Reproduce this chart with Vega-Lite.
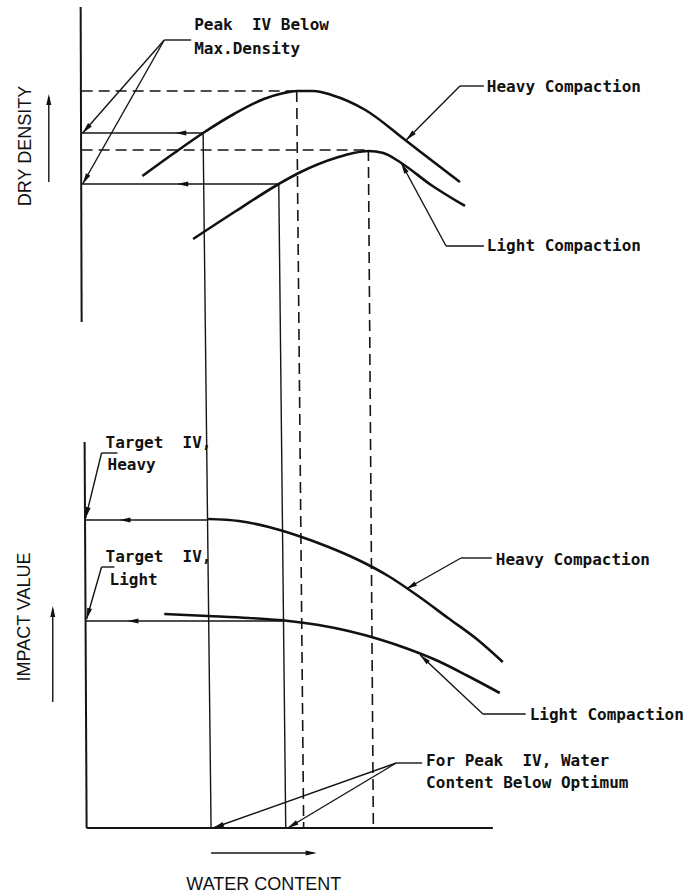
{
  "$schema": "https://vega.github.io/schema/vega-lite/v6.json",
  "width": 684,
  "height": 895,
  "autosize": {"type": "fit", "contains": "padding"},
  "padding": 0,
  "background": "white",
  "config": {"view": {"stroke": null}},
  "datasets": {
    "segments": [
      {"x": 81, "y": 7, "x2": 82, "y2": 322, "k": "axis"},
      {"x": 85, "y": 442, "x2": 87, "y2": 828, "k": "axis"},
      {"x": 87, "y": 828, "x2": 495, "y2": 828, "k": "axis"},
      {"x": 82, "y": 133, "x2": 204, "y2": 133, "k": "thin"},
      {"x": 204, "y": 133, "x2": 212, "y2": 828, "k": "thin"},
      {"x": 82, "y": 184, "x2": 280, "y2": 184, "k": "thin"},
      {"x": 280, "y": 184, "x2": 287, "y2": 828, "k": "thin"},
      {"x": 86, "y": 520, "x2": 209, "y2": 520, "k": "thin"},
      {"x": 86, "y": 621, "x2": 284, "y2": 621, "k": "thin"},
      {"x": 165, "y": 40, "x2": 192, "y2": 40, "k": "thin"},
      {"x": 165, "y": 40, "x2": 83, "y2": 133, "k": "thin"},
      {"x": 165, "y": 40, "x2": 83, "y2": 184, "k": "thin"},
      {"x": 462, "y": 86, "x2": 486, "y2": 86, "k": "thin"},
      {"x": 462, "y": 86, "x2": 408, "y2": 140, "k": "thin"},
      {"x": 448, "y": 246, "x2": 486, "y2": 246, "k": "thin"},
      {"x": 448, "y": 246, "x2": 403, "y2": 163, "k": "thin"},
      {"x": 102, "y": 453, "x2": 118, "y2": 453, "k": "thin"},
      {"x": 102, "y": 453, "x2": 86, "y2": 518, "k": "thin"},
      {"x": 102, "y": 567, "x2": 115, "y2": 567, "k": "thin"},
      {"x": 102, "y": 567, "x2": 87, "y2": 619, "k": "thin"},
      {"x": 463, "y": 558, "x2": 494, "y2": 558, "k": "thin"},
      {"x": 463, "y": 558, "x2": 408, "y2": 589, "k": "thin"},
      {"x": 485, "y": 714, "x2": 528, "y2": 714, "k": "thin"},
      {"x": 485, "y": 714, "x2": 422, "y2": 655, "k": "thin"},
      {"x": 398, "y": 763, "x2": 424, "y2": 763, "k": "thin"},
      {"x": 398, "y": 763, "x2": 214, "y2": 828, "k": "thin"},
      {"x": 398, "y": 763, "x2": 289, "y2": 828, "k": "thin"},
      {"x": 49, "y": 182, "x2": 49, "y2": 97, "k": "thin"},
      {"x": 53, "y": 702, "x2": 53, "y2": 609, "k": "thin"},
      {"x": 212, "y": 853, "x2": 315, "y2": 853, "k": "thin"},
      {"x": 82, "y": 91, "x2": 298, "y2": 91, "k": "dash"},
      {"x": 298, "y": 91, "x2": 305, "y2": 828, "k": "dash"},
      {"x": 82, "y": 150, "x2": 370, "y2": 150, "k": "dash"},
      {"x": 370, "y": 150, "x2": 375, "y2": 828, "k": "dash"}
    ],
    "curves": [
      {"c": "top heavy", "x": 143, "y": 176},
      {"c": "top heavy", "x": 175, "y": 153},
      {"c": "top heavy", "x": 204, "y": 133},
      {"c": "top heavy", "x": 235, "y": 114},
      {"c": "top heavy", "x": 265, "y": 99},
      {"c": "top heavy", "x": 285, "y": 93},
      {"c": "top heavy", "x": 298, "y": 91},
      {"c": "top heavy", "x": 315, "y": 91},
      {"c": "top heavy", "x": 333, "y": 95},
      {"c": "top heavy", "x": 367, "y": 110},
      {"c": "top heavy", "x": 407, "y": 140},
      {"c": "top heavy", "x": 433, "y": 160},
      {"c": "top heavy", "x": 462, "y": 182},
      {"c": "top light", "x": 194, "y": 239},
      {"c": "top light", "x": 237, "y": 211},
      {"c": "top light", "x": 280, "y": 184},
      {"c": "top light", "x": 300, "y": 173},
      {"c": "top light", "x": 340, "y": 157},
      {"c": "top light", "x": 355, "y": 153},
      {"c": "top light", "x": 370, "y": 151},
      {"c": "top light", "x": 385, "y": 153},
      {"c": "top light", "x": 403, "y": 163},
      {"c": "top light", "x": 433, "y": 185},
      {"c": "top light", "x": 467, "y": 206},
      {"c": "bottom heavy", "x": 209, "y": 519},
      {"c": "bottom heavy", "x": 240, "y": 521},
      {"c": "bottom heavy", "x": 270, "y": 527},
      {"c": "bottom heavy", "x": 300, "y": 536},
      {"c": "bottom heavy", "x": 330, "y": 547},
      {"c": "bottom heavy", "x": 360, "y": 560},
      {"c": "bottom heavy", "x": 390, "y": 576},
      {"c": "bottom heavy", "x": 420, "y": 596},
      {"c": "bottom heavy", "x": 450, "y": 618},
      {"c": "bottom heavy", "x": 480, "y": 640},
      {"c": "bottom heavy", "x": 505, "y": 662},
      {"c": "bottom light", "x": 165, "y": 614},
      {"c": "bottom light", "x": 209, "y": 616},
      {"c": "bottom light", "x": 250, "y": 618},
      {"c": "bottom light", "x": 290, "y": 621},
      {"c": "bottom light", "x": 320, "y": 625},
      {"c": "bottom light", "x": 350, "y": 631},
      {"c": "bottom light", "x": 380, "y": 639},
      {"c": "bottom light", "x": 410, "y": 649},
      {"c": "bottom light", "x": 440, "y": 661},
      {"c": "bottom light", "x": 470, "y": 676},
      {"c": "bottom light", "x": 502, "y": 693}
    ],
    "arrows": [
      {"x": 176, "y": 133, "a": 270},
      {"x": 178, "y": 184, "a": 270},
      {"x": 120, "y": 520, "a": 270},
      {"x": 128, "y": 621, "a": 270},
      {"x": 49, "y": 94, "a": 0},
      {"x": 53, "y": 606, "a": 0},
      {"x": 318, "y": 853, "a": 90},
      {"x": 83, "y": 133, "a": 221.7},
      {"x": 83, "y": 184, "a": 210},
      {"x": 408, "y": 140, "a": 225},
      {"x": 403, "y": 163, "a": 331.5},
      {"x": 86, "y": 518, "a": 193.8},
      {"x": 87, "y": 619, "a": 196.1},
      {"x": 408, "y": 589, "a": 240.6},
      {"x": 422, "y": 655, "a": 313.1},
      {"x": 214, "y": 828, "a": 250.5},
      {"x": 289, "y": 828, "a": 239.2}
    ],
    "labels": [
      {"x": 195, "y": 30, "t": "Peak\u00a0\u00a0IV Below"},
      {"x": 195, "y": 54, "t": "Max.Density"},
      {"x": 489, "y": 92, "t": "Heavy Compaction"},
      {"x": 489, "y": 251, "t": "Light Compaction"},
      {"x": 106, "y": 448, "t": "Target\u00a0\u00a0IV,"},
      {"x": 108, "y": 470, "t": "Heavy"},
      {"x": 106, "y": 562, "t": "Target\u00a0\u00a0IV,"},
      {"x": 110, "y": 585, "t": "Light"},
      {"x": 498, "y": 565, "t": "Heavy Compaction"},
      {"x": 532, "y": 720, "t": "Light Compaction"},
      {"x": 428, "y": 766, "t": "For Peak\u00a0\u00a0IV, Water"},
      {"x": 428, "y": 788, "t": "Content Below Optimum"}
    ],
    "titles": [
      {"x": 26, "y": 146, "t": "DRY DENSITY", "r": 270},
      {"x": 25, "y": 617, "t": "IMPACT VALUE", "r": 270},
      {"x": 265, "y": 885, "t": "WATER CONTENT", "r": 0}
    ]
  },
  "encoding": {
    "x": {"field": "x", "type": "quantitative", "scale": {"domain": [0, 684], "nice": false, "zero": false}, "axis": null},
    "y": {"field": "y", "type": "quantitative", "scale": {"domain": [0, 895], "nice": false, "zero": false, "reverse": true}, "axis": null}
  },
  "layer": [
    {
      "data": {"name": "segments"},
      "transform": [{"filter": "datum.k === 'axis'"}],
      "mark": {"type": "rule", "color": "#151515", "strokeWidth": 2},
      "encoding": {"x2": {"field": "x2"}, "y2": {"field": "y2"}}
    },
    {
      "data": {"name": "segments"},
      "transform": [{"filter": "datum.k === 'thin'"}],
      "mark": {"type": "rule", "color": "#151515", "strokeWidth": 1.4},
      "encoding": {"x2": {"field": "x2"}, "y2": {"field": "y2"}}
    },
    {
      "data": {"name": "segments"},
      "transform": [{"filter": "datum.k === 'dash'"}],
      "mark": {"type": "rule", "color": "#151515", "strokeWidth": 1.6, "strokeDash": [11, 6]},
      "encoding": {"x2": {"field": "x2"}, "y2": {"field": "y2"}}
    },
    {
      "data": {"name": "curves"},
      "mark": {"type": "line", "color": "#111111", "strokeWidth": 2.6, "interpolate": "monotone"},
      "encoding": {"detail": {"field": "c", "type": "nominal"}}
    },
    {
      "data": {"name": "arrows"},
      "mark": {"type": "point", "shape": "M0,0L0.5,2.2L-0.5,2.2Z", "filled": true, "color": "#111111", "size": 100, "opacity": 1, "strokeWidth": 0},
      "encoding": {"angle": {"field": "a", "type": "quantitative", "scale": null}}
    },
    {
      "data": {"name": "labels"},
      "mark": {"type": "text", "align": "left", "baseline": "alphabetic", "font": "DejaVu Sans Mono", "fontSize": 16, "fontWeight": "bold", "color": "#111111"},
      "encoding": {"text": {"field": "t"}}
    },
    {
      "data": {"name": "titles"},
      "mark": {"type": "text", "align": "center", "baseline": "middle", "font": "Liberation Sans", "fontSize": 18, "color": "#111111"},
      "encoding": {"text": {"field": "t"}, "angle": {"field": "r", "type": "quantitative", "scale": null}}
    }
  ]
}
